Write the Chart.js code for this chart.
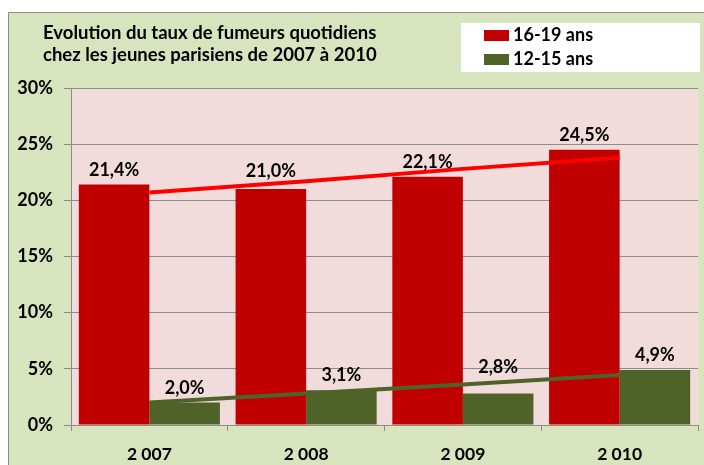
<!DOCTYPE html>
<html><head><meta charset="utf-8">
<script src="https://cdn.jsdelivr.net/npm/chart.js@4/dist/chart.umd.min.js"></script>
<style>html,body{margin:0;padding:0;background:#fff}#wrap{width:704px;height:465px;position:relative}canvas{display:block}</style>
</head><body><div id="wrap"><canvas id="c" width="704" height="465"></canvas></div>
<script>
const titleLines = ['Evolution du taux de fumeurs quotidiens', 'chez les jeunes parisiens de 2007 à 2010'];
const categories = ['2 007', '2 008', '2 009', '2 010'];
const seriesNames = ['16-19 ans', '12-15 ans'];
const values1619 = [21.4, 21.0, 22.1, 24.5];
const values1215 = [2.0, 3.1, 2.8, 4.9];
const trend1619 = [20.7, 21.7, 22.8, 23.8];
const trend1215 = [2.0, 2.8, 3.6, 4.45];
const yTickLabels = ['0%', '5%', '10%', '15%', '20%', '25%', '30%'];

const FONT = 'Lato, "Open Sans", sans-serif';
const COLORS = { red: '#c00000', green: '#4f6228', redTrend: '#ff0000', greenTrend: '#4f6228' };

const framePlugin = {
  id: 'frame',
  beforeDraw(chart) {
    const ctx = chart.ctx, a = chart.chartArea;
    ctx.save();
    ctx.fillStyle = '#ffffff';
    ctx.fillRect(0, 0, chart.width, chart.height);
    ctx.fillStyle = '#d7e4bd';
    ctx.fillRect(8, 12, chart.width, chart.height);
    ctx.strokeStyle = '#8c8c8c';
    ctx.lineWidth = 1;
    ctx.beginPath();
    ctx.moveTo(8.5, chart.height + 2); ctx.lineTo(8.5, 12.5); ctx.lineTo(chart.width + 2, 12.5);
    ctx.stroke();
    ctx.fillStyle = '#f2dcdb';
    ctx.fillRect(a.left, a.top, a.right - a.left, a.bottom - a.top);
    ctx.restore();
  },
  afterDraw(chart) {
    const ctx = chart.ctx;
    ctx.save();
    ctx.fillStyle = '#000';
    ctx.font = 'bold 18.5px ' + FONT;
    ctx.textAlign = 'left';
    ctx.textBaseline = 'middle';
    ctx.fillText(titleLines[0], 43, 33);
    ctx.fillText(titleLines[1], 43, 55);
    // legend
    ctx.fillStyle = '#ffffff';
    ctx.fillRect(461, 23, 239, 49);
    ctx.font = 'bold 18px ' + FONT;
    const bars = chart.data.datasets.filter(d => d.type === 'bar');
    bars.forEach((d, i) => {
      const y = 30 + i * 24;
      ctx.fillStyle = d.backgroundColor;
      ctx.fillRect(484, y, 25, 11);
      ctx.fillStyle = '#000';
      ctx.fillText(d.label, 513, y + 5.5);
    });
    ctx.restore();
  },
  afterDatasetsDraw(chart, args, opts) {
    const ctx = chart.ctx;
    ctx.save();
    ctx.fillStyle = '#000';
    ctx.font = 'bold 18px ' + FONT;
    ctx.textAlign = 'center';
    ctx.textBaseline = 'alphabetic';
    let b = 0;
    chart.data.datasets.forEach((d, di) => {
      if (d.type !== 'bar') return;
      const meta = chart.getDatasetMeta(di);
      meta.data.forEach((el, i) => {
        const txt = d.data[i].toFixed(1).replace('.', ',') + '%';
        ctx.fillText(txt, el.x, el.y - opts.lift[b][i]);
      });
      b++;
    });
    ctx.restore();
  }
};

new Chart(document.getElementById('c'), {
  data: {
    labels: categories,
    datasets: [
      { type: 'line', data: trend1619, borderColor: COLORS.redTrend, borderWidth: 4, pointRadius: 0, fill: false, order: 0 },
      { type: 'line', data: trend1215, borderColor: COLORS.greenTrend, borderWidth: 4, pointRadius: 0, fill: false, order: 0 },
      { type: 'bar', label: seriesNames[0], data: values1619, backgroundColor: COLORS.red, barPercentage: 1, categoryPercentage: 0.9, order: 1 },
      { type: 'bar', label: seriesNames[1], data: values1215, backgroundColor: COLORS.green, barPercentage: 1, categoryPercentage: 0.9, order: 1 }
    ]
  },
  options: {
    responsive: false,
    devicePixelRatio: 1,
    animation: false,
    layout: { padding: { top: 88, right: 6, left: 0, bottom: 0 } },
    plugins: {
      legend: { display: false },
      title: { display: false },
      tooltip: { enabled: false },
      frame: { lift: [[9, 12, 9, 9], [9, 9, 21, 9]] }
    },
    scales: {
      x: {
        offset: true,
        grid: { offset: true, drawOnChartArea: false, color: '#8c8c8c', tickLength: 6 },
        border: { color: '#8c8c8c' },
        ticks: { font: { family: FONT, weight: 'bold', size: 17.5 }, color: '#000', padding: 13, maxRotation: 0 },
        afterFit(s) { s.height = 40; }
      },
      y: {
        min: 0, max: 30,
        ticks: { stepSize: 5, callback: (v, i) => yTickLabels[i], font: { family: FONT, weight: 'bold', size: 18 }, color: '#000', padding: 11 },
        grid: { color: '#8c8c8c', tickLength: 7 },
        border: { color: '#8c8c8c' },
        afterFit(s) { s.width = 71; }
      }
    }
  },
  plugins: [framePlugin]
});
</script>
</body></html>
